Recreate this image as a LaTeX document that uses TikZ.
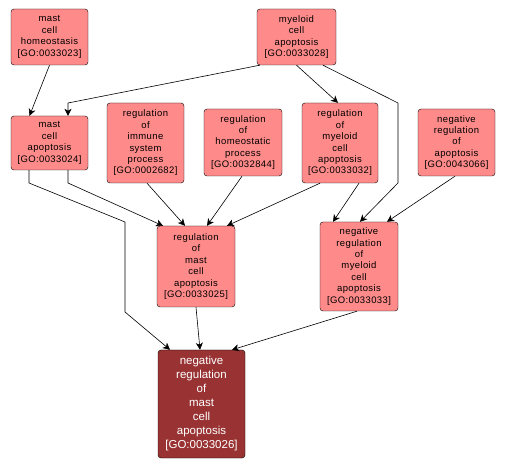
\documentclass[tikz,border=0pt]{standalone}
\usepackage{fontspec}
\setmainfont{Liberation Sans}
\newfontfamily\gofont[LetterSpace=4]{Liberation Sans}
\usepackage{xcolor}
\usepackage{tikz}
\usetikzlibrary{arrows.meta,positioning}
\definecolor{goterm}{RGB}{255,138,138}
\definecolor{gotarget}{RGB}{153,51,51}
\tikzset{>={Stealth[length=7pt,width=7pt,inset=2pt]}}
\tikzset{
  term/.style={draw,rounded corners=3pt,fill=goterm,align=center,inner sep=0pt,
    font=\gofont\fontsize{9.5}{11.4}\selectfont},
  edge/.style={->,semithick}
}

\begin{document}
\begin{tikzpicture}[x=1pt, y=-1pt]
  \useasboundingbox (0,0) rectangle (507,468);
  % Nodes
  \node[term,minimum width=77pt,minimum height=56pt] (n23) at (49.5,37)
       {mast\\cell\\homeostasis\\{[GO:0033023]}};
  \node[term,minimum width=79pt,minimum height=56pt] (n28) at (296.5,37)
       {myeloid\\cell\\apoptosis\\{[GO:0033028]}};
  \node[term,minimum width=77pt,minimum height=54pt] (n24) at (49.5,143)
       {mast\\cell\\apoptosis\\{[GO:0033024]}};
  \node[term,minimum width=77pt,minimum height=80pt] (n2682) at (145.5,143)
       {regulation\\of\\immune\\system\\process\\{[GO:0002682]}};
  \node[term,minimum width=78pt,minimum height=67pt] (n32844) at (243,142.5)
       {regulation\\of\\homeostatic\\process\\{[GO:0032844]}};
  \node[term,minimum width=76pt,minimum height=80pt] (n33032) at (340,143)
       {regulation\\of\\myeloid\\cell\\apoptosis\\{[GO:0033032]}};
  \node[term,minimum width=77pt,minimum height=67pt] (n43066) at (456.5,142.5)
       {negative\\regulation\\of\\apoptosis\\{[GO:0043066]}};
  \node[term,minimum width=78pt,minimum height=81pt] (n33025) at (196,266.5)
       {regulation\\of\\mast\\cell\\apoptosis\\{[GO:0033025]}};
  \node[term,minimum width=78pt,minimum height=89pt] (n33033) at (359,266.5)
       {negative\\regulation\\of\\myeloid\\cell\\apoptosis\\{[GO:0033033]}};
  \node[term,fill=gotarget,text=white,minimum width=87pt,minimum height=108pt,
        font=\fontsize{11.5}{14}\selectfont] (n33026) at (201.5,404)
       {negative\\regulation\\of\\mast\\cell\\apoptosis\\{[GO:0033026]}};

  % Edges
  \draw[edge] (n23.south) -- ([xshift=-20pt]n24.north);
  \draw[edge] ([xshift=3pt]n28.south west) -- (68,103) -- ([xshift=18.5pt]n24.north);
  \draw[edge] (n28.south) -- ([xshift=-2pt]n33032.north);
  \draw[edge] ([xshift=26.5pt]n28.south) -- (398,103) -- (398,183) -- ([xshift=1pt]n33033.north);
  \draw[edge] ([xshift=19pt]n33032.south) -- ([xshift=-26pt]n33033.north);
  \draw[edge] ([xshift=-1.5pt]n43066.south) -- ([xshift=28pt]n33033.north);
  \draw[edge] ([xshift=-20pt]n33032.south) -- ([xshift=31pt]n33025.north);
  \draw[edge] ([xshift=-1pt]n32844.south) -- ([xshift=11pt]n33025.north);
  \draw[edge] ([xshift=1.5pt]n2682.south) -- ([xshift=-11pt]n33025.north);
  \draw[edge] ([xshift=18.5pt]n24.south) -- (68,183) -- ([xshift=-33pt]n33025.north);
  \draw[edge] ([xshift=-20.5pt]n24.south) -- (29,183) -- (125,222) -- (125,312)
              -- ([xshift=-31.5pt]n33026.north);
  \draw[edge] (n33025.south) -- ([xshift=-1.5pt]n33026.north);
  \draw[edge] ([xshift=-2pt]n33033.south) -- ([xshift=30.5pt]n33026.north);
\end{tikzpicture}
\end{document}
